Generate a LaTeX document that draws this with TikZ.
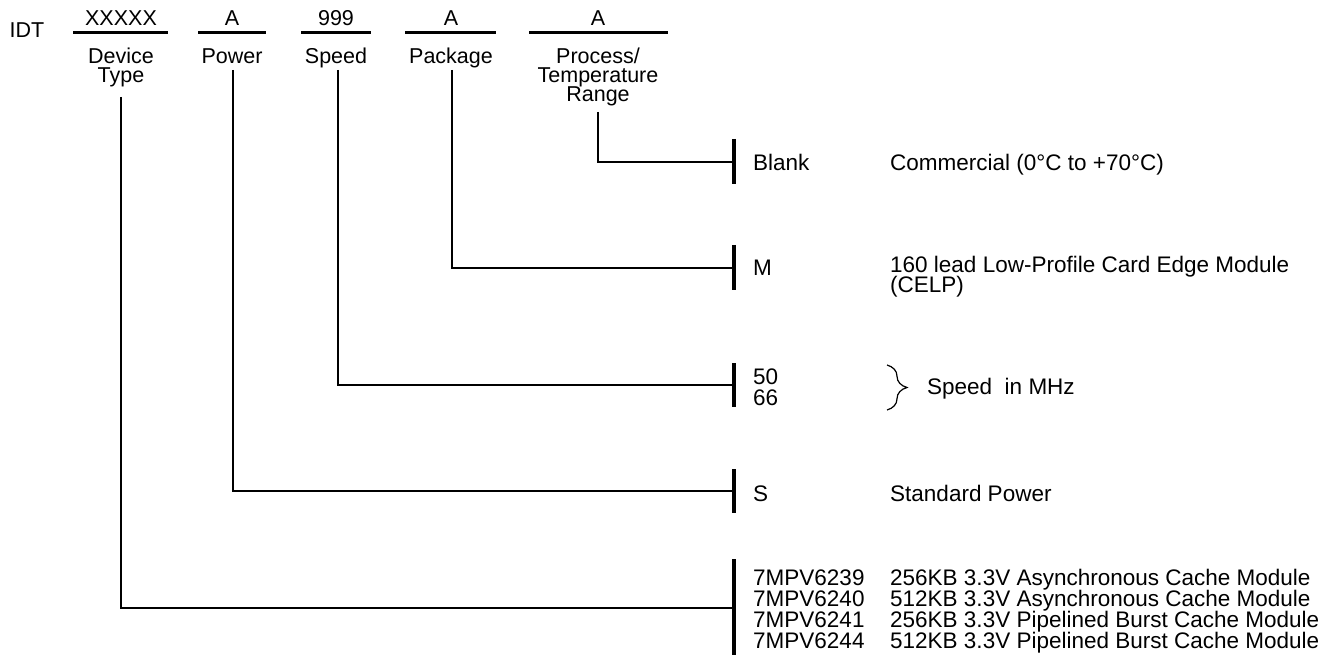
\documentclass[tikz,border=0pt]{standalone}
\usepackage{fontspec}
\setmainfont{Liberation Sans}
\usetikzlibrary{decorations.pathreplacing}
\begin{document}
\begin{tikzpicture}[x=1pt,y=-1pt,
  hdr/.style={font=\fontsize{21.5}{21.5}\selectfont, inner sep=0pt, text height=15.4pt, text depth=0pt},
  txt/.style={font=\fontsize{22.5}{22.5}\selectfont, inner sep=0pt, text height=16.1pt, text depth=0pt, anchor=west},
  rulebar/.style={line width=3pt},
  wire/.style={line width=2.6pt},
  stopbar/.style={line width=3.6pt},
  bracestyle/.style={decorate, decoration={brace, amplitude=20pt}, line width=1.2pt}]
\useasboundingbox (0,0) rectangle (1336,655);

% header
\node[hdr] (idt) at (27,30) {IDT};
\node[hdr] (t1) at (121,18) {XXXXX};
\node[hdr] (t2) at (232,18) {A};
\node[hdr] (t3) at (336,18) {999};
\node[hdr] (t4) at (451,18) {A};
\node[hdr] (t5) at (598,18) {A};

\draw[rulebar] (73,33) -- (168,33);
\draw[rulebar] (198,33) -- (266,33);
\draw[rulebar] (301,33) -- (371,33);
\draw[rulebar] (405,33) -- (496,33);
\draw[rulebar] (529,33) -- (668,33);

\node[hdr] (d1a) at (121,56) {Device};
\node[hdr] (d1b) at (121,75) {Type};
\node[hdr] (d2) at (232,56) {Power};
\node[hdr] (d3) at (336,56) {Speed};
\node[hdr] (d4) at (451,56) {Package};
\node[hdr] (d5a) at (598,56) {Process/};
\node[hdr] (d5b) at (598,75) {Temperature};
\node[hdr] (d5c) at (598,94) {Range};

% start points of connectors
\coordinate (s1) at (121,97);
\coordinate (s2) at (233,70);
\coordinate (s3) at (338,70);
\coordinate (s4) at (452,70);
\coordinate (s5) at (598,112);

% stop bars
\coordinate (b5) at (734,162);
\coordinate (b4) at (734,268);
\coordinate (b3) at (734,385);
\coordinate (b2) at (734,491);
\coordinate (b1) at (734,608);

\draw[wire] (s5) |- (b5);
\draw[wire] (s4) |- (b4);
\draw[wire] (s3) |- (b3);
\draw[wire] (s2) |- (b2);
\draw[wire] (s1) |- (b1);

\draw[stopbar] (734,139) -- (734,184);
\draw[stopbar] (734,245) -- (734,290);
\draw[stopbar] (734,363) -- (734,407);
\draw[stopbar] (734,469) -- (734,513);
\draw[stopbar] (734,559) -- (734,655);

% codes and descriptions
\node[txt] (c5) at (753,162) {Blank};
\node[txt] (e5) at (890,162) {Commercial (0°C to +70°C)};

\node[txt] (c4) at (753,267) {M};
\node[txt] (e4a) at (890,264) {160 lead Low-Profile Card Edge Module};
\node[txt] (e4b) at (890,284) {(CELP)};

\node[txt] (c3a) at (753,376) {50};
\node[txt] (c3b) at (753,397) {66};
\coordinate (br1) at (887,365);
\coordinate (br2) at (887,410);
\draw[bracestyle] (br1) -- (br2);
\node[txt] (e3) at (927,386) {Speed\ \ in MHz};

\node[txt] (c2) at (753,493) {S};
\node[txt] (e2) at (890,493) {Standard Power};

\node[txt] (c1a) at (753,577) {7MPV6239};
\node[txt] (c1b) at (753,598) {7MPV6240};
\node[txt] (c1c) at (753,619) {7MPV6241};
\node[txt] (c1d) at (753,640) {7MPV6244};
\node[txt] (e1a) at (890,577) {256KB 3.3V Asynchronous Cache Module};
\node[txt] (e1b) at (890,598) {512KB 3.3V Asynchronous Cache Module};
\node[txt] (e1c) at (890,619) {256KB 3.3V Pipelined Burst Cache Module};
\node[txt] (e1d) at (890,640) {512KB 3.3V Pipelined Burst Cache Module};
\end{tikzpicture}
\end{document}
